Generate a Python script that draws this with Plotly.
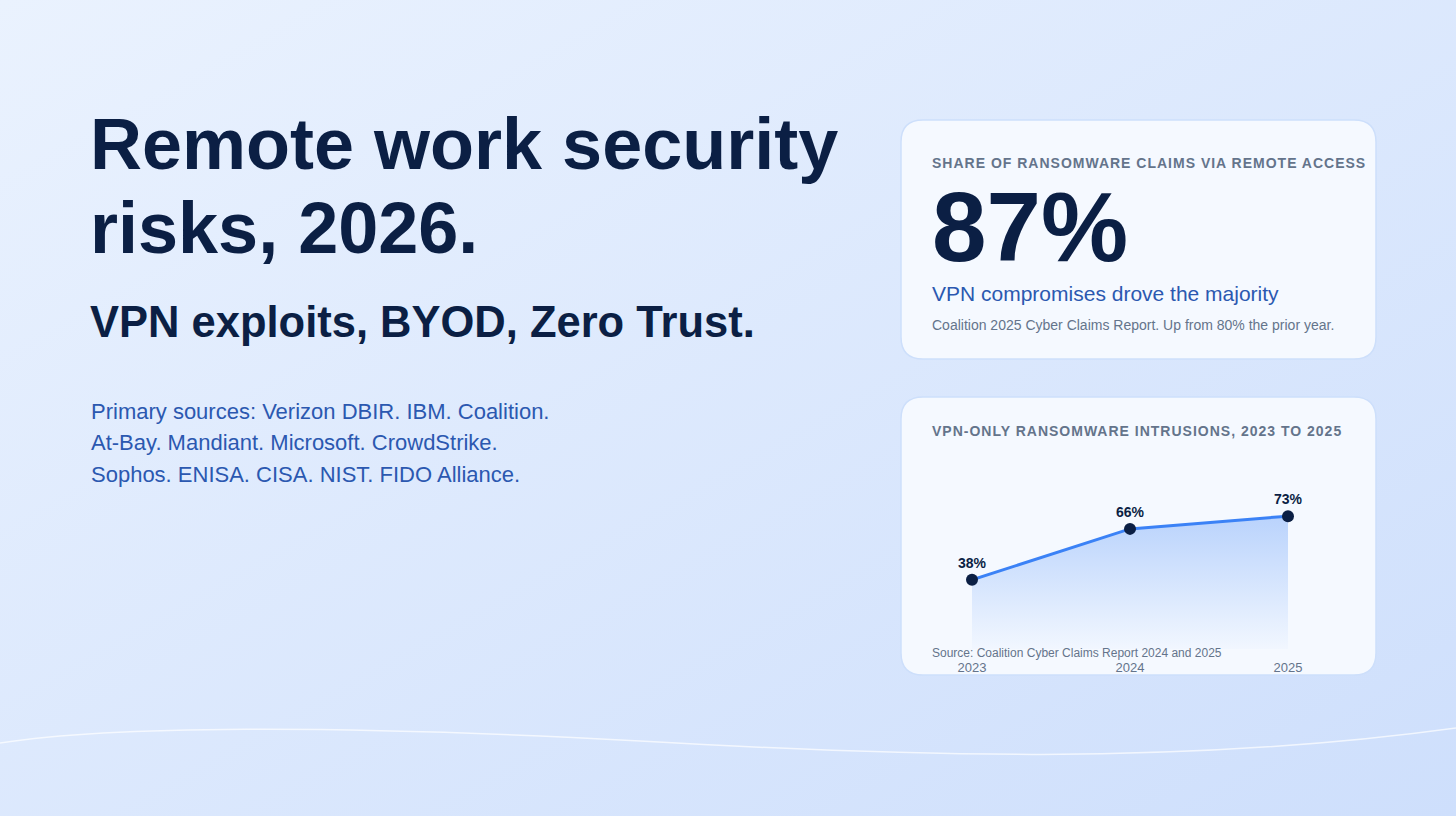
import base64
import plotly.graph_objects as go

W, H = 1456, 816
FONT = "Liberation Sans, Arial, Helvetica, sans-serif"
NAVY = "#0b1f44"
BLUE = "#2b58b0"
GREY = "#64748b"
LINE = "#3b82f6"

# data
years = [2023, 2024, 2025]
vpn_only_share = [38, 66, 73]
year_labels = ["2023", "2024", "2025"]
headline_value = "87%"
prior_year_value = "80%"


def px(x, y):
    # pixel -> paper coords
    return x / W, 1 - y / H


def path_of(segs):
    out = ""
    for cmd, ps in segs:
        out += cmd + " " + " ".join("%.5f,%.5f" % px(a, b) for a, b in ps) + " "
    return out


def rounded_rect(x0, y0, x1, y1, r):
    return path_of([
        ("M", [(x0 + r, y0)]),
        ("L", [(x1 - r, y0)]),
        ("Q", [(x1, y0), (x1, y0 + r)]),
        ("L", [(x1, y1 - r)]),
        ("Q", [(x1, y1), (x1 - r, y1)]),
        ("L", [(x0 + r, y1)]),
        ("Q", [(x0, y1), (x0, y1 - r)]),
        ("L", [(x0, y0 + r)]),
        ("Q", [(x0, y0), (x0 + r, y0)]),
    ]) + "Z"


fig = go.Figure()

fig.add_trace(
    go.Scatter(
        x=years,
        y=vpn_only_share,
        mode="lines+markers+text",
        text=[f"{v}%" for v in vpn_only_share],
        textposition="top center",
        textfont=dict(family=FONT, size=14, color=NAVY, weight="bold"),
        line=dict(color=LINE, width=3),
        marker=dict(color=NAVY, size=12),
        fill="tozeroy",
        fillgradient=dict(
            type="vertical",
            colorscale=[[0, "rgba(59,130,246,0.02)"], [1, "rgba(59,130,246,0.32)"]],
        ),
        cliponaxis=False,
        hoverinfo="skip",
        showlegend=False,
    )
)

# background gradient as an svg image
svg = (
    '<svg xmlns="http://www.w3.org/2000/svg" width="1456" height="816" '
    'viewBox="0 0 1456 816" preserveAspectRatio="none"><defs>'
    '<linearGradient id="g" x1="0" y1="0" x2="1" y2="1">'
    '<stop offset="0" stop-color="#eaf2fe"/><stop offset="1" stop-color="#cedffc"/>'
    "</linearGradient></defs>"
    '<rect width="1456" height="816" fill="url(#g)"/></svg>'
)
bg_src = "data:image/svg+xml;base64," + base64.b64encode(svg.encode()).decode()

shapes = [
    dict(type="path", xref="paper", yref="paper", layer="below",
         path=rounded_rect(901, 120, 1376, 359, 22),
         fillcolor="#f5f9ff", line=dict(color="#cddffb", width=1.5)),
    dict(type="path", xref="paper", yref="paper", layer="below",
         path=rounded_rect(901, 397, 1376, 675, 22),
         fillcolor="#f5f9ff", line=dict(color="#cddffb", width=1.5)),
    dict(type="path", xref="paper", yref="paper", layer="below",
         path=path_of([
             ("M", [(0, 743)]),
             ("C", [(110, 726), (330, 724), (640, 741)]),
             ("C", [(900, 756), (1180, 766), (1456, 728)]),
         ]),
         line=dict(color="rgba(255,255,255,0.7)", width=1.5)),
]


def note(x, y, text, size, color, bold=False):
    xx, yy = px(x, y)
    fig.add_annotation(
        x=xx, y=yy, xref="paper", yref="paper", xanchor="left", yanchor="middle",
        align="left", text=text, showarrow=False,
        font=dict(family=FONT, size=size, color=color, weight="bold" if bold else "normal"),
    )


note(88, 144, "Remote work security", 72, NAVY, True)
note(88, 228, "risks, 2026.", 72, NAVY, True)
note(88, 322, "VPN exploits, BYOD, Zero Trust.", 43.5, NAVY, True)
note(89, 411, "Primary sources: Verizon DBIR. IBM. Coalition.", 22, BLUE)
note(89, 443, "At-Bay. Mandiant. Microsoft. CrowdStrike.", 22, BLUE)
note(89, 474, "Sophos. ENISA. CISA. NIST. FIDO Alliance.", 22, BLUE)

note(930, 163, "SHARE OF RANSOMWARE CLAIMS VIA REMOTE ACCESS", 14, GREY, True)
note(930, 227, headline_value, 98, NAVY, True)
note(930, 293, "VPN compromises drove the majority", 21, BLUE)
note(930, 325, f"Coalition 2025 Cyber Claims Report. Up from {prior_year_value} the prior year.", 14, GREY)

note(930, 431, "VPN-ONLY RANSOMWARE INTRUSIONS, 2023 TO 2025", 14, GREY, True)
note(930, 653, "Source: Coalition Cyber Claims Report 2024 and 2025", 12, GREY)

fig.update_layout(
    width=W,
    height=H,
    margin=dict(l=0, r=0, t=0, b=0, autoexpand=False),
    paper_bgcolor="#dde9fd",
    plot_bgcolor="rgba(0,0,0,0)",
    shapes=shapes,
    images=[dict(source=bg_src, xref="paper", yref="paper", x=0, y=1, sizex=1, sizey=1,
                 xanchor="left", yanchor="top", sizing="stretch", layer="below")],
    xaxis=dict(
        domain=[972 / W, 1288 / W],
        range=[2023, 2025],
        tickvals=years,
        ticktext=year_labels,
        showgrid=False, zeroline=False, showline=False,
        tickfont=dict(family=FONT, size=13, color=GREY),
        ticklabelstandoff=9,
        automargin=False,
        fixedrange=True,
    ),
    yaxis=dict(
        domain=[1 - 649 / H, 1 - 467 / H],
        range=[0, 100],
        visible=False,
        automargin=False,
        fixedrange=True,
    ),
    hovermode=False,
)

# page without body margin, spaced-out small caps labels
post = """
document.body.style.margin = '0';
document.querySelectorAll('.annotation-text').forEach(function (t) {
  var s = t.textContent;
  if (s.length > 30 && s === s.toUpperCase()) { t.style.letterSpacing = '1px'; }
});
"""

fig.write_html("out.html", post_script=post, config={"displayModeBar": False})
